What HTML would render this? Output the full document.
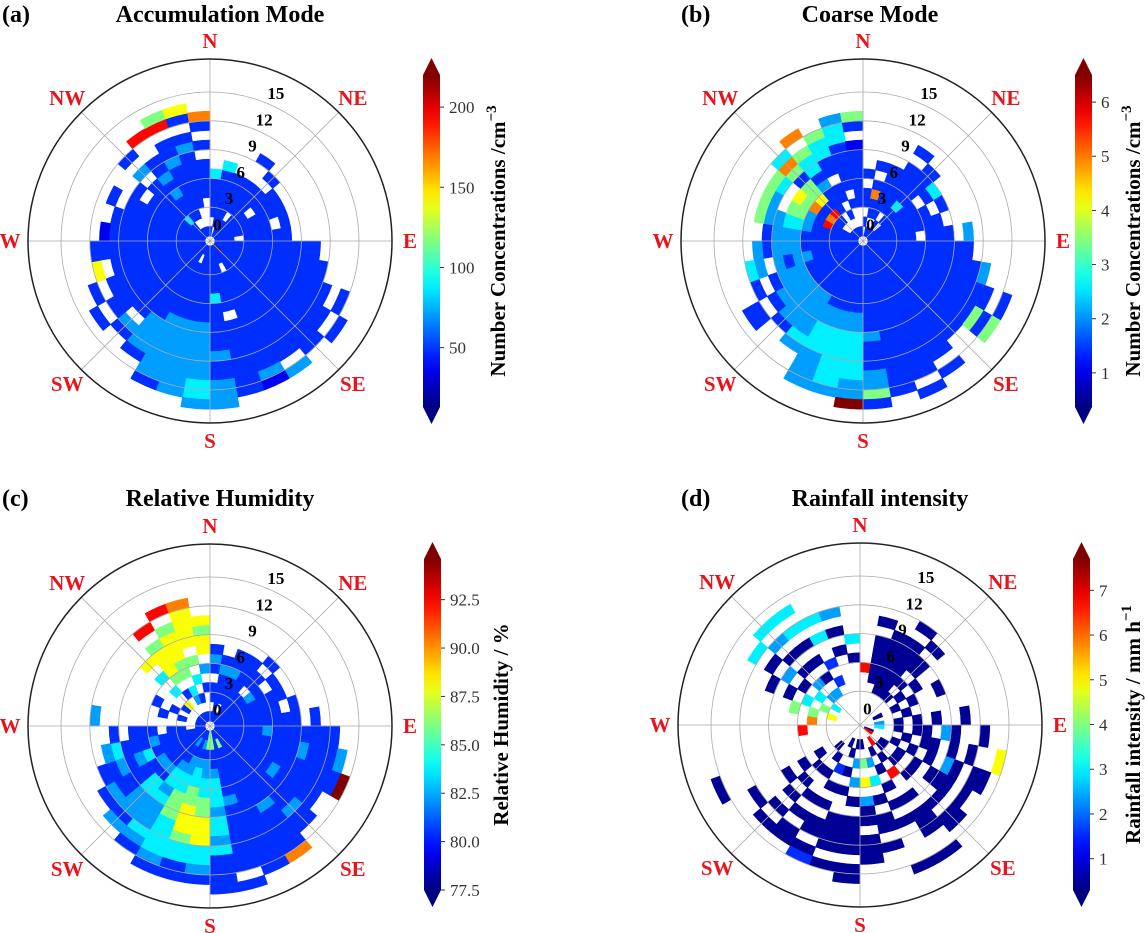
<!DOCTYPE html>
<html><head><meta charset="utf-8"><style>
html,body{margin:0;padding:0;background:#fff;}
svg{display:block;font-family:"Liberation Serif",serif;}
</style></head><body>
<svg id="fig" width="1145" height="933" viewBox="0 0 1145 933" xmlns="http://www.w3.org/2000/svg"></svg>
<script>
// ---- data: per direction bin (10 deg, clockwise from N), char per speed bin (1 m/s); '.' = no data, digit = level
const levelsA = [".2.22224",
"..2222224",".2222222",".22.2222..2",".2222222.2",".2222.222",".22222222",".222222.2",".22.22222",
".22222222222",".222222222222",".2222222222222.2",".22222222222222.2",".922222222222222",".22222222222222.3",
".22.2222222222231",".2222222.22222222",".22222422222322333",".22222222333333443",".2222222233333333",
".2.22222233333332",".22222222233332",".2222222222.32",".222222222222.2",".22222222222.2",".2222222222.6",
".222222222222",".22222222221",".2222222222",".222222222.2",".2222222.2",".22422222.3.2",".2.22232322..8",
".2.222222322.85",".2..22222232.26",".2...2222.2.27"];
const levelsB = ["..2.22.2",".2.2272.2",".2.222222",".22.222222.2",".2.22422222",".222222.24",
".2222222.2",".22222222",".22222.222.3",".22222222222",".2222222222223",".22222222222222.2",".2222222222222525",
".2222222222222",".22222222222222.2",".222222222222222.2",".2222222222222222",".22222222232223352",
".22222223344444339",".2222222334444443",".2222222334443333",".2222223333343",".222222333332",
".22222233332.22",".2222223332.2",".222223323.34",".22222233323",".2222223332",".22222344335",
".22282355.35",".2.272756.45",".2.2826552574",".2..22232445.7",".2.2.22.22445",".2..2.22222443",".2..2222221.25"];
const levelsC = [".2.22.232",".2222232",".2.222322",".22222222",".2222.22.2",".222232.2",".22222222",
".2222222.2",".222222222.2",".2222232222222",".22222222232223",".222222222222229",".2222222322222",
".22222222222322",".2222222223222227",".2522222222222222",".222222232222222.2",".55223444344342222",
".5523344556664432",".2323445566654422",".2223344555444432",".232234434333432",".22222324433323",
".2222232222232",".222222432322",".22222322243",".2.22.222.2",".2..........3",".2.2.2",".2..2.2",
".2.2",".2.6.4.4.6",".2..2.56665.8",".2.34.556665.8",".2.2.4.5.66667",".2..2.3.6656"];
const levelsD = ["......8",".....00000.0","....0000000","....0000000.0","....0.0.00.0",".....0.0",
"..0.0.0..0",".....0","..3.0.0.0..0","..4.0.00.30..0",".....0.00.0.0..6",".0..0.0.0.30.00",
".8.0.0.0.000.0","...0.0.0...0.00","..8.0.8..0.000..0","...0.0.0.0.0....0","....3.4.0.00.0",
"..0.5.6.300.000","..0.3.3.0.0000.00","...0.0.0..0000.0","..0..2.0.0.00.02","....0.0..0.0.00",
"...0..0.0.0.0.0",".....0.0.0...0","................0","","......8",".....7","...6.5.5","....5.4.0.0",
"...4.4.0.3.0.4","....3.3.0.0.3.4","....3.0.0.0.4.4",".....2.2..4.4","........0.0.3",".......0.4"];
const levelFrac = [0.02, 0.11, 0.17, 0.28, 0.36, 0.5, 0.62, 0.75, 0.87, 1.0];
const rangeA = [13, 220], ticksA = [50, 100, 150, 200];
const rangeB = [0.37, 6.5], ticksB = [1, 2, 3, 4, 5, 6];
const rangeC = [77.5, 94.6], ticksC = [77.5, 80.0, 82.5, 85.0, 87.5, 90.0, 92.5];
const rangeD = [0.3, 7.7], ticksD = [1, 2, 3, 4, 5, 6, 7];
const ringTicks = [0, 3, 6, 9, 12, 15];
const dirLabels = ["N","NE","E","SE","S","SW","W","NW"];

const NS = "http://www.w3.org/2000/svg";
const svg = document.getElementById('fig');
function mk(tag, attrs, parent){const e=document.createElementNS(NS,tag);for(const k in attrs)e.setAttribute(k,attrs[k]);(parent||svg).appendChild(e);return e;}
function cl(v){return Math.max(0,Math.min(1,v));}
function jet(t){const r=cl(1.5-Math.abs(4*t-3)),g=cl(1.5-Math.abs(4*t-2)),b=cl(1.5-Math.abs(4*t-1));
 return `rgb(${Math.round(r*255)},${Math.round(g*255)},${Math.round(b*255)})`;}
function rad(v){return Math.max(4,5+9.6*v);}
function pt(cx,cy,r,deg){const a=deg*Math.PI/180;return [cx+r*Math.sin(a),cy-r*Math.cos(a)];}

const defs=mk('defs',{});
const grad=mk('linearGradient',{id:'jetg',x1:0,y1:1,x2:0,y2:0},defs);
for(let i=0;i<=20;i++){mk('stop',{offset:i/20,'stop-color':jet(i/20)},grad);}

function panel(o){
 const g=mk('g',{});
 
 
 const {cx,cy,levels,range}=o;
 levels.forEach((s,k)=>{
  for(let j=1;j<s.length&&j<19;j++){
   const ch=s[j]; if(ch==='.')continue;
   const value=range[0]+levelFrac[+ch]*(range[1]-range[0]);
   const t=(value-range[0])/(range[1]-range[0]);
   const a0=k*10,a1=k*10+10,r0=rad(j-1),r1=rad(j);
   const p1=pt(cx,cy,r0,a0),p2=pt(cx,cy,r1,a0),p3=pt(cx,cy,r1,a1),p4=pt(cx,cy,r0,a1);
   const c=mk('path',{d:`M${p1}L${p2}A${r1},${r1} 0 0 1 ${p3}L${p4}A${r0},${r0} 0 0 0 ${p1}Z`,fill:jet(t),stroke:jet(t),'stroke-width':0.6},g);
   
   
  }
 });
 for(let i=0;i<8;i++){const p=pt(cx,cy,182,i*45);mk('line',{x1:cx,y1:cy,x2:p[0],y2:p[1],stroke:'#aaa','stroke-width':0.8},g);}
 ringTicks.slice(1).forEach(v=>{mk('circle',{cx,cy,r:rad(v),fill:'none',stroke:'#aaa','stroke-width':0.8},g);});
 const oc=mk('circle',{cx,cy,r:182,fill:'none',stroke:'#222','stroke-width':1.5},g);
 
 
 ringTicks.forEach(v=>{const p=pt(cx,cy,18+9.6*v,24);
  const t=mk('text',{x:p[0],y:p[1]+6,'text-anchor':'middle','font-size':17,'font-weight':'bold',fill:'#000'},g);t.textContent=v;
  
  });
 dirLabels.forEach((d,i)=>{const rr=(i%2)?202:200;const p=pt(cx,cy,rr,i*45);
  const t=mk('text',{x:p[0],y:p[1]+7,'text-anchor':'middle','font-size':21,'font-weight':'bold',fill:'#e8131b'},g);t.textContent=d;
  
  });
 const tl=mk('text',{x:o.lx,y:o.ty,'font-size':24,'font-weight':'bold'},g);tl.textContent=o.letter;
 
 
 const tt=mk('text',{x:o.tx,y:o.ty,'font-size':24,'font-weight':'bold','text-anchor':'middle'},g);tt.textContent=o.title;
 
 
 const cb=mk('g',{},g);
 
 
 const bx=o.bx,bw=17,top=o.btop,bot=o.bbot;
 mk('rect',{x:bx,y:top,width:bw,height:bot-top,fill:'url(#jetg)'},cb);
 mk('polygon',{points:`${bx},${top} ${bx+bw},${top} ${bx+bw/2},${top-17}`,fill:jet(1)},cb);
 mk('polygon',{points:`${bx},${bot} ${bx+bw},${bot} ${bx+bw/2},${bot+17}`,fill:jet(0)},cb);
 o.ticks.forEach(v=>{const y=bot-(v-range[0])/(range[1]-range[0])*(bot-top);
  mk('line',{x1:bx+bw,y1:y,x2:bx+bw+4,y2:y,stroke:'#333','stroke-width':1},cb);
  const t=mk('text',{x:bx+bw+9,y:y+6,'font-size':17,fill:'#333'},cb);t.textContent=o.fmt(v);
  
  });
 const lab=mk('text',{x:0,y:0,'font-size':21,'font-weight':'bold','text-anchor':'middle',transform:`translate(${o.labx},${(top+bot)/2}) rotate(-90)`},cb);
 lab.innerHTML=o.label;
 
 
}
const nc='Number Concentrations  /cm<tspan font-size="15" dy="-9">−3</tspan>';
panel({name:'panel-a-accumulation',cx:210,cy:241,levels:levelsA,range:rangeA,ticks:ticksA,fmt:v=>v,bx:423,btop:75,bbot:407,labx:505,lx:2,tx:220,ty:22,letter:'(a)',title:'Accumulation Mode',label:nc});
panel({name:'panel-b-coarse',cx:863,cy:241,levels:levelsB,range:rangeB,ticks:ticksB,fmt:v=>v,bx:1075,btop:75,bbot:407,labx:1140,lx:681,tx:870,ty:22,letter:'(b)',title:'Coarse Mode',label:nc});
panel({name:'panel-c-humidity',cx:210,cy:726,levels:levelsC,range:rangeC,ticks:ticksC,fmt:v=>v.toFixed(1),bx:424,btop:559,bbot:890,labx:508,lx:2,tx:220,ty:506,letter:'(c)',title:'Relative Humidity',label:'Relative Humidity  / %'});
panel({name:'panel-d-rainfall',cx:860,cy:725,levels:levelsD,range:rangeD,ticks:ticksD,fmt:v=>v,bx:1073,btop:559,bbot:890,labx:1140,lx:681,tx:880,ty:506,letter:'(d)',title:'Rainfall intensity',label:'Rainfall intensity  / mm h<tspan font-size="15" dy="-9">−1</tspan>'});
</script>
</body></html>
